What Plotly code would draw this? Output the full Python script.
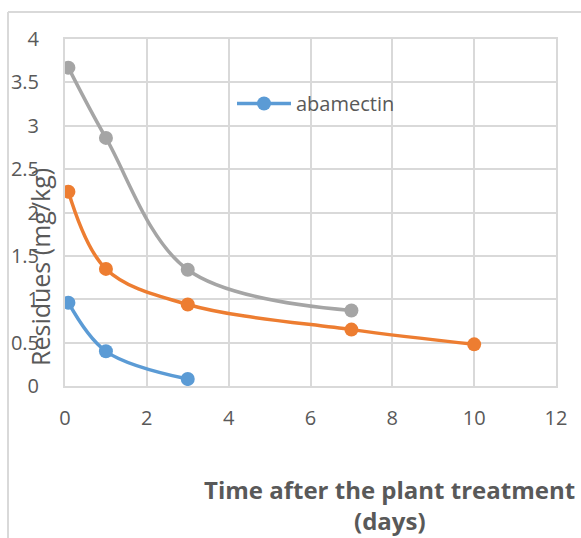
import plotly.graph_objects as go

# Data
days_abamectin = [0.083, 1, 3]
res_abamectin = [0.96, 0.40, 0.08]

days_series2 = [0.083, 1, 3, 7, 10]
res_series2 = [2.24, 1.35, 0.94, 0.65, 0.48]

days_series3 = [0.083, 1, 3, 7]
res_series3 = [3.67, 2.86, 1.34, 0.87]

x_ticks = [0, 2, 4, 6, 8, 10, 12]
y_ticks = [0, 0.5, 1, 1.5, 2, 2.5, 3, 3.5, 4]
y_ticktext = ["0", "0.5", "1", "1.5", "2", "2.5", "3", "3.5", "4"]

TXT = "#595959"
GRID = "#d9d9d9"
FONT = "Open Sans"

fig = go.Figure()
fig.add_trace(go.Scatter(x=days_series3, y=res_series3, mode="lines+markers",
                         name="Series 3", showlegend=False,
                         line=dict(color="#A5A5A5", width=3.5, shape="spline", smoothing=1),
                         marker=dict(size=14, color="#A5A5A5")))
fig.add_trace(go.Scatter(x=days_series2, y=res_series2, mode="lines+markers",
                         name="Series 2", showlegend=False,
                         line=dict(color="#ED7D31", width=3.5, shape="spline", smoothing=1),
                         marker=dict(size=14, color="#ED7D31")))
fig.add_trace(go.Scatter(x=days_abamectin, y=res_abamectin, mode="lines+markers",
                         name="abamectin", showlegend=True,
                         line=dict(color="#5B9BD5", width=3.5, shape="spline", smoothing=1),
                         marker=dict(size=14, color="#5B9BD5")))

L, R, T, B = 65, 25, 39, 152
W, H = 581, 538
pw, ph = W - L - R, H - T - B

def px_x(p):
    return (p - L) / pw

def px_y(p):
    return (H - B - p) / ph

fig.update_layout(
    width=W, height=H,
    margin=dict(l=L, r=R, t=T, b=B),
    paper_bgcolor="white", plot_bgcolor="white",
    font=dict(family=FONT, color=TXT, size=20),
    xaxis=dict(range=[0, 12], tickvals=x_ticks, showgrid=True, gridcolor=GRID, gridwidth=2,
               showline=True, linecolor=GRID, linewidth=2, mirror=True, zeroline=False,
               ticks="", ticklabelstandoff=13, tickfont=dict(size=20, color=TXT)),
    yaxis=dict(range=[0, 4], tickvals=y_ticks, ticktext=y_ticktext, showgrid=True,
               gridcolor=GRID, gridwidth=2, showline=True, linecolor=GRID, linewidth=2,
               mirror=True, zeroline=False, ticks="", ticklabelstandoff=20,
               tickfont=dict(size=20, color=TXT)),
    legend=dict(x=px_x(232), y=px_y(84), xanchor="left", yanchor="top",
                bgcolor="rgba(0,0,0,0)", itemwidth=54,
                font=dict(size=20, color=TXT, family=FONT)),
    showlegend=True,
)

# Y-axis title (overlapping the tick labels as in the reference)
fig.add_annotation(text="Residues (mg/kg)", textangle=-90, xref="paper", yref="paper",
                   x=px_x(40), y=px_y(267), xanchor="center", yanchor="middle",
                   showarrow=False, font=dict(size=25, color=TXT, family=FONT))

# X-axis title, two lines
fig.add_annotation(text="<b>Time after the plant treatment</b>", xref="paper", yref="paper",
                   x=px_x(389), y=px_y(489), xanchor="center", yanchor="middle",
                   showarrow=False, font=dict(size=24, color=TXT, family=FONT))
fig.add_annotation(text="<b>(days)</b>", xref="paper", yref="paper",
                   x=px_x(390), y=px_y(520), xanchor="center", yanchor="middle",
                   showarrow=False, font=dict(size=24, color=TXT, family=FONT))

# Chart-area border (top and left visible)
fig.add_shape(type="line", xref="paper", yref="paper", x0=px_x(8), x1=px_x(590),
              y0=px_y(12), y1=px_y(12), line=dict(color=GRID, width=2))
fig.add_shape(type="line", xref="paper", yref="paper", x0=px_x(8), x1=px_x(8),
              y0=px_y(12), y1=px_y(545), line=dict(color=GRID, width=2))

fig.write_html("out.html")
